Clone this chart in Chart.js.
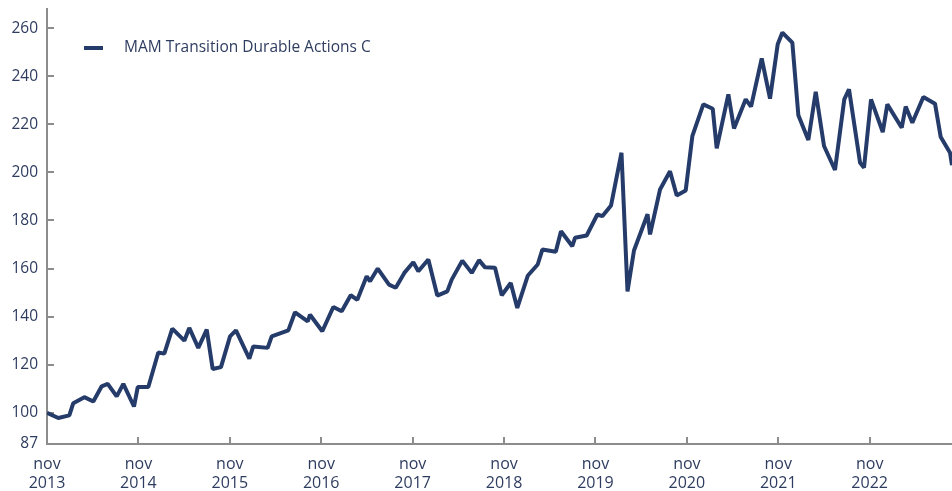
<!DOCTYPE html>
<html>
<head>
<meta charset="utf-8">
<script src="https://cdn.jsdelivr.net/npm/chart.js@4.4.1/dist/chart.umd.min.js"></script>
<style>
  html, body { margin: 0; padding: 0; background: #fff; }
  #wrap { width: 952px; height: 491px; }
</style>
</head>
<body>
<div id="wrap"><canvas id="perfChart" width="952" height="491"></canvas></div>
<script>
// ─── Data ───
// months since nov 2013 (the date of each point)
const months = [
  0, 1.48, 2.93, 3.45, 4.90, 6.08, 7.18, 7.97, 9.15, 10.02,
  11.42, 11.91, 13.30, 14.61, 15.40, 16.45, 18.03, 18.68, 19.86, 20.97,
  21.75, 22.84, 24.03, 24.81, 26.56, 27.08, 28.97, 29.50, 31.68, 32.56,
  34.23, 34.53, 36.14, 37.59, 38.69, 39.87, 40.74, 41.97, 42.41, 43.42,
  44.90, 45.78, 46.91, 48.09, 48.75, 50.06, 51.24, 52.55, 53.13, 54.52,
  55.76, 56.72, 57.50, 58.82, 59.70, 60.88, 61.74, 63.11, 64.42, 65.03,
  66.79, 67.48, 68.96, 69.32, 70.85, 72.25, 72.90, 74.05, 75.42, 76.21,
  77.06, 78.84, 79.17, 80.48, 81.79, 82.67, 83.85, 84.72, 86.16, 87.40,
  87.92, 89.45, 90.19, 91.73, 92.43, 93.83, 94.92, 95.93, 96.54, 97.85,
  98.64, 99.95, 100.92, 102.01, 103.45, 104.67, 105.29, 106.74, 107.26, 108.18,
  109.72, 110.32, 112.21, 112.73, 113.60, 115.05, 116.58, 117.33, 118.55, 118.81
];
const values = [
  100, 97.8, 98.9, 104, 106.5, 104.7, 111, 112, 106.8, 112,
  102.6, 110.7, 110.7, 125.1, 124.6, 135, 130, 135.3, 127, 134.6,
  118.2, 119, 131.8, 134.3, 122.5, 127.6, 127, 131.8, 134.3, 141.8,
  138, 140.8, 133.9, 144, 142.2, 148.9, 147, 156.8, 154.7, 160,
  153.3, 152, 158.2, 162.6, 158.9, 163.75, 148.75, 150.5, 155.4, 163.3,
  158.2, 163.5, 160.5, 160.3, 148.9, 154, 143.6, 157, 161.7, 167.9,
  167, 175.5, 169.3, 172.8, 173.75, 182.5, 181.8, 186.25, 208.2, 150.5,
  167.5, 182.6, 174.2, 192.9, 200.5, 190.4, 192.5, 215.1, 228.3, 226.5,
  210, 232.5, 218.3, 230.4, 227.4, 247.4, 230.7, 253.3, 258.2, 254,
  223.75, 213.5, 233.5, 211, 201, 230.4, 234.6, 204, 202, 230.4,
  216.8, 228.3, 218.6, 227.4, 220.7, 231.4, 228.6, 214.7, 208.2, 203
];
const seriesName = "MAM Transition Durable Actions C";
const xTickMonths = [0, 12, 24, 36, 48, 60, 72, 84, 96, 108];
const xTickLabels = ["2013","2014","2015","2016","2017","2018","2019","2020","2021","2022"];
const yTicks = [87, 100, 120, 140, 160, 180, 200, 220, 240, 260];

// ─── Style ───
const LINE = "#253b69";
const TEXT = "#2e3c5f";
const AXIS = "#8c8c8c";

Chart.defaults.font.family = "'Open Sans', sans-serif";
Chart.defaults.font.size = 15.5;
Chart.defaults.color = TEXT;

// ── Inward tick marks + legend ──
const decorPlugin = {
  id: "decor",
  beforeDatasetsDraw(chart) {
    const { ctx, chartArea, scales } = chart;
    ctx.save();
    ctx.strokeStyle = AXIS;
    ctx.lineWidth = 2;
    ctx.beginPath();
    scales.y.ticks.forEach(t => {
      const py = Math.round(scales.y.getPixelForValue(t.value));
      ctx.moveTo(chartArea.left, py);
      ctx.lineTo(chartArea.left + 7, py);
    });
    scales.x.ticks.forEach(t => {
      const px = Math.round(scales.x.getPixelForValue(t.value));
      ctx.moveTo(px, chartArea.bottom);
      ctx.lineTo(px, chartArea.bottom - 7);
    });
    ctx.stroke();

    // legend
    ctx.strokeStyle = LINE;
    ctx.lineWidth = 4;
    ctx.beginPath();
    ctx.moveTo(84, 48);
    ctx.lineTo(103, 48);
    ctx.stroke();
    ctx.fillStyle = TEXT;
    ctx.font = "15.5px 'Open Sans', sans-serif";
    ctx.textBaseline = "middle";
    ctx.fillText(seriesName, 124, 48);
    ctx.restore();
  }
};

new Chart(document.getElementById("perfChart"), {
  type: "line",
  data: {
    datasets: [{
      label: seriesName,
      data: months.map((m, i) => ({ x: m, y: values[i] })),
      borderColor: LINE,
      borderWidth: 4,
      borderJoinStyle: "bevel",
      pointRadius: 0,
      tension: 0,
      fill: false
    }]
  },
  options: {
    responsive: false,
    animation: false,
    layout: { padding: { top: 9, right: 0, left: 0, bottom: 0 } },
    plugins: { legend: { display: false }, tooltip: { enabled: false } },
    scales: {
      x: {
        type: "linear",
        min: 0,
        max: months[months.length - 1],
        grid: { display: false, drawTicks: false },
        border: { display: true, color: AXIS, width: 2 },
        afterBuildTicks: s => { s.ticks = xTickMonths.map(v => ({ value: v })); },
        afterFit: s => { s.height = 47; s.paddingLeft = 0; s.paddingRight = 0; },
        ticks: {
          padding: 11,
          font: { size: 16 },
          maxRotation: 0,
          autoSkip: false,
          callback: v => ["nov", xTickLabels[xTickMonths.indexOf(v)]]
        }
      },
      y: {
        min: 87,
        max: 268,
        grid: { display: false, drawTicks: false },
        border: { display: true, color: AXIS, width: 2 },
        afterBuildTicks: s => { s.ticks = yTicks.map(v => ({ value: v })); },
        afterFit: s => { s.width = 47; s.paddingTop = 0; s.paddingBottom = 0; },
        ticks: { padding: 9, autoSkip: false }
      }
    }
  },
  plugins: [decorPlugin]
});
</script>
</body>
</html>
